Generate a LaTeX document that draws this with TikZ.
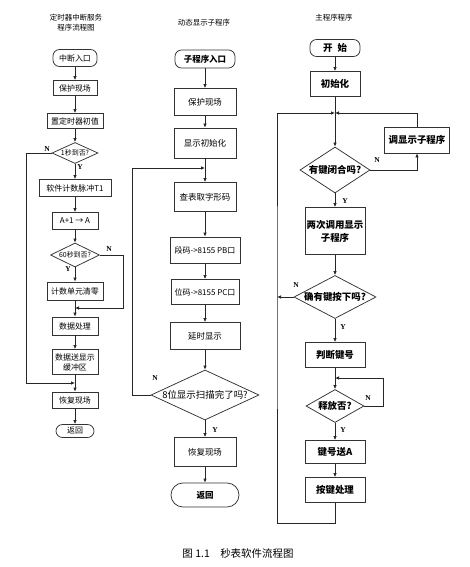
\documentclass[tikz,border=0pt]{standalone}
\usepackage{fontspec}
\setmainfont{Noto Sans CJK SC}
\newfontfamily\latf{Liberation Serif}
\usetikzlibrary{shapes.geometric,arrows.meta}
\begin{document}
\begin{tikzpicture}[x=1bp,y=-1bp,
  line/.style={draw=black!85, line width=0.75bp},
  arr/.style={line, -{Latex[length=4bp,width=3.5bp]}},
  box/.style={draw=black!80, line width=0.75bp, rectangle, inner sep=1bp, align=center},
  term/.style={box, rounded corners=6.5bp},
  dia/.style={draw=black!80, line width=0.75bp, diamond, inner sep=0pt},
  fl/.style={font=\fontsize{8}{10}\selectfont},
  fm/.style={font=\fontsize{8.5}{11}\selectfont},
  fr/.style={font=\fontsize{9.5}{13}\selectfont\bfseries},
  ft/.style={font=\fontsize{7.5}{10}\selectfont, align=center},
  yn/.style={font=\fontsize{7.5}{8}\selectfont\latf\bfseries, inner sep=0pt},
]
\useasboundingbox (0,0) rectangle (470,567);

% ---------------- left column ----------------
\node[ft] (lt) at (76,23) {定时器中断服务\\程序流程图};
\node[term,fl,minimum width=44bp,minimum height=17bp] (l1) at (75,58) {中断入口};
\node[box,fl,minimum width=44bp,minimum height=15bp] (l2) at (75,88) {保护现场};
\node[box,fl,minimum width=56bp,minimum height=15bp] (l3) at (75,121) {置定时器初值};
\node[dia,minimum width=46bp,minimum height=21bp,label={[fl,font=\fontsize{7}{8}\selectfont]center:1秒到否?}] (l4) at (75,153) {};
\node[box,fl,minimum width=72bp,minimum height=17bp] (l5) at (75,188) {软件计数脉冲T1};
\node[box,fl,minimum width=46bp,minimum height=17bp] (l6) at (75,221) {A+1 → A};
\node[dia,minimum width=49bp,minimum height=24bp,label={[fl,font=\fontsize{7}{8}\selectfont]center:60秒到否?}] (l7) at (75,255) {};
\node[box,fl,minimum width=56bp,minimum height=18bp] (l8) at (75,291) {计数单元清零};
\node[box,fl,minimum width=46bp,minimum height=18bp] (l9) at (75,326) {数据处理};
\node[box,fl,minimum width=46bp,minimum height=25bp] (l10) at (75,362) {数据送显示\\缓冲区};
\node[box,fl,minimum width=46bp,minimum height=16bp] (l11) at (75,400) {恢复现场};
\node[term,fl,minimum width=38bp,minimum height=13bp] (l12) at (75,431) {返回};
\coordinate (lj1) at (75,308);
\coordinate (lj2) at (75,383);

\draw[arr] (l1.south) -- (l2.north);
\draw[arr] (l2.south) -- (l3.north);
\draw[arr] (l3.south) -- (l4.north);
\draw[arr] (l4.south) -- (l5.north);
\draw[arr] (l5.south) -- (l6.north);
\draw[arr] (l6.south) -- (l7.north);
\draw[arr] (l7.south) -- (l8.north);
\draw[arr] (l8.south) -- (l9.north);
\draw[arr] (l9.south) -- (l10.north);
\draw[arr] (l10.south) -- (l11.north);
\draw[arr] (l11.south) -- (l12.north);
\draw[arr] (l4.west) -- ++(-25,0) |- (lj2);
\draw[arr] (l7.east) -- ++(23,0) |- (lj1);
\node[yn] (ln1) at (47,149) {N};
\node[yn] (ly1) at (80,167) {Y};
\node[yn] (ln2) at (109,249) {N};
\node[yn] (ly2) at (68,269) {Y};

% ---------------- middle column ----------------
\node[ft] (mt) at (204,23) {动态显示子程序};
\node[term,fm,font=\fontsize{8.5}{11}\selectfont\bfseries,minimum width=60bp,minimum height=18bp] (m1) at (205,59) {子程序入口};
\node[box,fm,minimum width=62bp,minimum height=27bp] (m2) at (205,102) {保护现场};
\node[box,fm,minimum width=62bp,minimum height=30bp] (m3) at (205,143) {显示初始化};
\node[box,fm,minimum width=62bp,minimum height=29bp] (m4) at (205,197) {查表取字形码};
\node[box,fm,font=\fontsize{8}{10}\selectfont,minimum width=70bp,minimum height=26bp] (m5) at (205,250) {段码->8155 PB口};
\node[box,fm,font=\fontsize{8}{10}\selectfont,minimum width=68bp,minimum height=25bp] (m6) at (205,292) {位码->8155 PC口};
\node[box,fm,minimum width=70bp,minimum height=27bp] (m7) at (205,336) {延时显示};
\node[dia,minimum width=108bp,minimum height=50bp,label={[font=\fontsize{9.5}{11}\selectfont]center:8位显示扫描完了吗?}] (m8) at (205,395) {};
\node[box,fm,minimum width=62bp,minimum height=29bp] (m9) at (205,452) {恢复现场};
\node[term,fm,font=\fontsize{8.5}{11}\selectfont\bfseries,minimum width=68bp,minimum height=24bp,rounded corners=12bp] (m10) at (205,495) {返回};
\coordinate (mj) at (205,168);

\draw[arr] (m1.south) -- (m2.north);
\draw[arr] (m2.south) -- (m3.north);
\draw[arr] (m3.south) -- (m4.north);
\draw[arr] (m4.south) -- (m5.north);
\draw[arr] (m5.south) -- (m6.north);
\draw[arr] (m6.south) -- (m7.north);
\draw[arr] (m7.south) -- (m8.north);
\draw[arr] (m8.south) -- (m9.north);
\draw[arr] (m9.south) -- (m10.north);
\draw[arr] (m8.west) -- ++(-18,0) |- (mj);
\node[yn] (mn1) at (155,378) {N};
\node[yn] (my1) at (215,430) {Y};

% ---------------- right column ----------------
\node[ft] (rt) at (334,18) {主程序程序};
\node[term,fr,minimum width=50bp,minimum height=17bp] (r1) at (335,48) {开\hspace{5bp}始};
\node[box,fr,minimum width=50bp,minimum height=25bp] (r2) at (335,84) {初始化};
\coordinate (rj) at (335,113);
\node[dia,minimum width=70bp,minimum height=46bp,label={[fr]center:有键闭合吗?}] (r3) at (335,170) {};
\node[box,fr,minimum width=65bp,minimum height=26bp] (r4) at (417,140) {调显示子程序};
\node[box,fr,minimum width=60bp,minimum height=47bp] (r5) at (335,231) {两次调用显示\\子程序};
\node[dia,minimum width=82bp,minimum height=43bp,label={[fr]center:确有键按下吗?}] (r6) at (335,297) {};
\node[box,fr,minimum width=60bp,minimum height=25bp] (r7) at (335,355) {判断键号};
\coordinate (rj2) at (335,378);
\node[dia,minimum width=58bp,minimum height=33bp,label={[fr]center:释放否?}] (r8) at (335,406) {};
\node[box,fr,minimum width=60bp,minimum height=23bp] (r9) at (335,452) {键号送A};
\node[box,fr,minimum width=60bp,minimum height=25bp] (r10) at (335,490) {按键处理};
\coordinate (rL) at (277,297);

\draw[arr] (r1.south) -- (r2.north);
\draw[line] (r2.south) -- (rj);
\draw[arr] (rj) -- (r3.north);
\draw[arr] (r3.east) -| (r4.south);
\draw[arr] (r4.north) |- (rj);
\draw[arr] (r3.south) -- (r5.north);
\draw[arr] (r5.south) -- (r6.north);
\draw[arr] (r6.west) -- (rL);
\draw[arr] (r6.south) -- (r7.north);
\draw[arr] (r7.south) -- (r8.north);
\draw[arr] (r8.east) -- ++(19,0) |- (rj2);
\draw[arr] (r8.south) -- (r9.north);
\draw[arr] (r9.south) -- (r10.north);
\draw[arr] (r10.south) -- ++(0,20.5) -| (rL) |- (rj);
\node[yn] (rn1) at (377,160) {N};
\node[yn] (ry1) at (345,201) {Y};
\node[yn] (rn2) at (296,285) {N};
\node[yn] (ry2) at (343,327) {Y};
\node[yn] (rn3) at (368,398) {N};
\node[yn] (ry3) at (343,430) {Y};

% ---------------- caption ----------------
\node[font=\fontsize{10.5}{12}\selectfont] (cap) at (238,554) {图 1.1\quad 秒表软件流程图};
\end{tikzpicture}
\end{document}
